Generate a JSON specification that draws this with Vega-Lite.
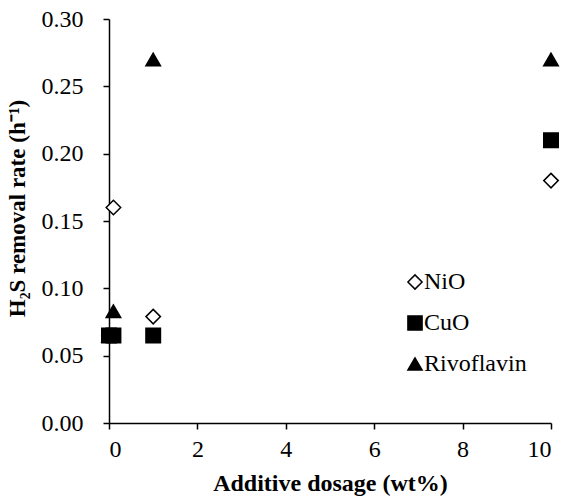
{
  "$schema": "https://vega.github.io/schema/vega-lite/v6.json",
  "autosize": "none",
  "width": 442,
  "height": 404,
  "padding": {"left": 109, "top": 19, "right": 15, "bottom": 75},
  "background": "white",
  "config": {
    "view": {"stroke": null},
    "font": "Liberation Serif",
    "axis": {"grid": false, "domainColor": "black", "tickColor": "black", "domainWidth": 1.5, "tickWidth": 1.5, "tickSize": 6, "labelColor": "black", "titleColor": "black", "labelFont": "Liberation Serif", "titleFont": "Liberation Serif", "labelFontSize": 24, "titleFontSize": 24, "titleFontWeight": "bold"},
    "legend": {"labelFont": "Liberation Serif", "labelFontSize": 24, "labelColor": "black"}
  },
  "data": {
    "values": [
      {"series": "NiO", "dosage": 0, "rate": 0.065},
      {"series": "NiO", "dosage": 0.1, "rate": 0.16},
      {"series": "NiO", "dosage": 1, "rate": 0.079},
      {"series": "NiO", "dosage": 10, "rate": 0.18},
      {"series": "Rivoflavin", "dosage": 0, "rate": 0.065},
      {"series": "Rivoflavin", "dosage": 0.1, "rate": 0.083},
      {"series": "Rivoflavin", "dosage": 1, "rate": 0.27},
      {"series": "Rivoflavin", "dosage": 10, "rate": 0.27},
      {"series": "CuO", "dosage": 0, "rate": 0.065},
      {"series": "CuO", "dosage": 0.1, "rate": 0.065},
      {"series": "CuO", "dosage": 1, "rate": 0.065},
      {"series": "CuO", "dosage": 10, "rate": 0.21}
    ]
  },
  "mark": {"type": "point", "filled": true, "stroke": "black", "strokeWidth": 1.5, "opacity": 1, "size": 210},
  "encoding": {
    "x": {"field": "dosage", "type": "quantitative", "scale": {"domain": [0, 10], "nice": false}, "axis": {"values": [0, 2, 4, 6, 8, 10], "title": "Additive dosage (wt%)", "labelPadding": 8, "titlePadding": 10}},
    "y": {"field": "rate", "type": "quantitative", "scale": {"domain": [0, 0.3], "nice": false}, "axis": {"values": [0, 0.05, 0.1, 0.15, 0.2, 0.25, 0.3], "format": ".2f", "title": "H₂S removal rate (h⁻¹)", "titleFontSize": 23, "labelPadding": 20, "titlePadding": 12, "titleY": 189}},
    "shape": {"field": "series", "type": "nominal", "scale": {"domain": ["NiO", "CuO", "Rivoflavin"], "range": ["diamond", "square", "triangle-up"]}, "legend": {"title": null, "orient": "none", "legendX": 294, "legendY": 251, "rowPadding": 17, "symbolSize": 200, "labelOffset": -3, "encode": {"symbols": {"update": {"stroke": {"value": "black"}, "strokeWidth": {"value": 1.5}}}}}},
    "fill": {"field": "series", "type": "nominal", "scale": {"domain": ["NiO", "CuO", "Rivoflavin"], "range": ["white", "black", "black"]}, "legend": {"title": null, "orient": "none", "legendX": 294, "legendY": 251, "rowPadding": 17, "symbolSize": 200, "labelOffset": -3, "encode": {"symbols": {"update": {"stroke": {"value": "black"}, "strokeWidth": {"value": 1.5}}}}}}
  }
}
